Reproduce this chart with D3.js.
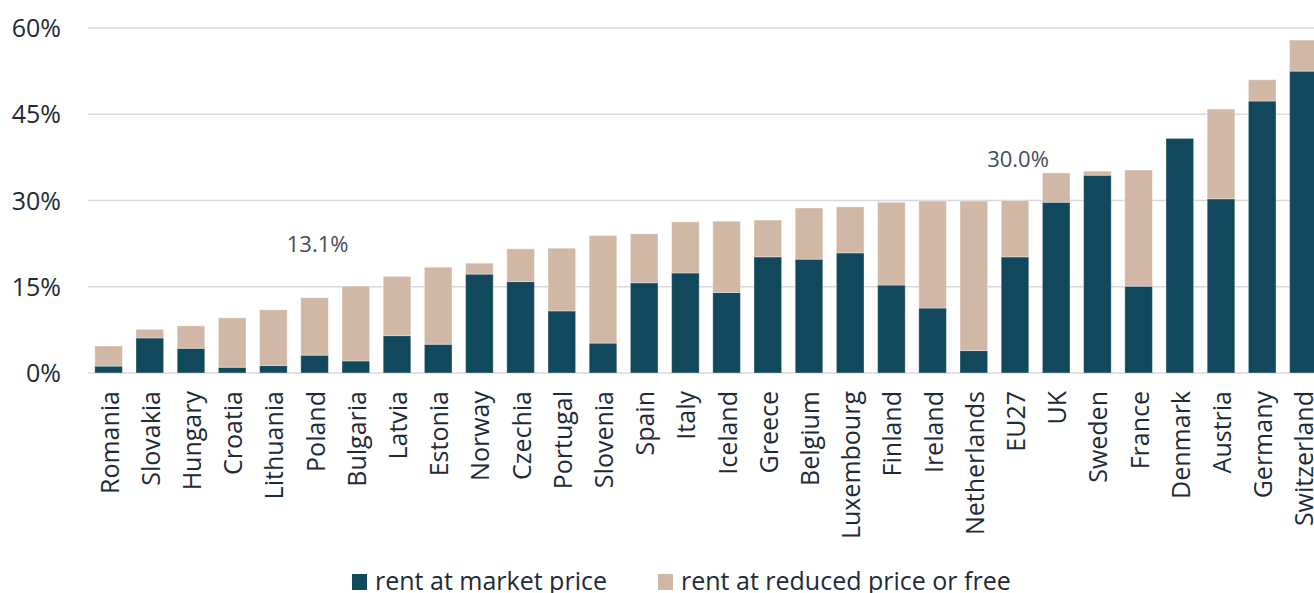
<!DOCTYPE html>
<html>
<head>
<meta charset="utf-8">
<script src="https://cdn.jsdelivr.net/npm/d3@7"></script>
<style>
  body { margin: 0; background: #fff; }
  svg text { font-family: "Open Sans", "Noto Sans", sans-serif; }
</style>
</head>
<body>
<div id="chart"></div>
<script>
// DATA
var countries = ["Romania", "Slovakia", "Hungary", "Croatia", "Lithuania", "Poland", "Bulgaria", "Latvia",
    "Estonia", "Norway", "Czechia", "Portugal", "Slovenia", "Spain", "Italy", "Iceland", "Greece", "Belgium",
    "Luxembourg", "Finland", "Ireland", "Netherlands", "EU27", "UK", "Sweden", "France", "Denmark", "Austria",
    "Germany", "Switzerland"];
var marketRent = [1.2, 6.1, 4.3, 1.0, 1.3, 3.1, 2.1, 6.5, 5.0, 17.2, 15.9, 10.8, 5.2, 15.7, 17.4, 14.0, 20.2,
    19.8, 20.9, 15.3, 11.3, 3.9, 20.2, 29.7, 34.4, 15.1, 40.8, 30.3, 47.3, 52.5];
var reducedRent = [3.5, 1.5, 3.9, 8.6, 9.7, 10.0, 13.0, 10.3, 13.4, 1.9, 5.7, 10.9, 18.7, 8.5, 8.9, 12.4, 6.4,
    8.9, 8.0, 14.4, 18.6, 26.0, 9.8, 5.1, 0.7, 20.2, 0.0, 15.6, 3.7, 5.4];
var yTicks = [0, 15, 30, 45, 60];
var seriesNames = ["rent at market price", "rent at reduced price or free"];
var highlights = [{country: "Poland", label: "13.1%", value: 13.1, dy: 46},
                  {country: "EU27", label: "30.0%", value: 30.0, dy: 34}];

var colors = ["#11485c", "#d1b8a6"];

// SET UP
var totalWidth = 1314, totalHeight = 593;
var margin = {top: 28, left: 88, bottom: 220};

var svg = d3.select("#chart").append("svg")
    .attr("width", totalWidth)
    .attr("height", totalHeight);

var xScale = d3.scaleBand()
    .domain(countries)
    .range([margin.left, margin.left + 30 * 41.2])
    .paddingInner(0.33)
    .paddingOuter(0.165);

var yScale = d3.scaleLinear()
    .domain([0, 60])
    .range([373, margin.top]);

// Gridlines + y labels
svg.append("g")
    .selectAll("line")
    .data(yTicks)
    .join("line")
    .attr("x1", margin.left)
    .attr("x2", totalWidth)
    .attr("y1", (d) => yScale(d))
    .attr("y2", (d) => yScale(d))
    .attr("stroke", "#d9d9d9")
    .attr("stroke-width", 1.5);

svg.append("g")
    .selectAll("text")
    .data(yTicks)
    .join("text")
    .attr("x", 61)
    .attr("y", (d) => yScale(d))
    .attr("dy", "0.36em")
    .attr("text-anchor", "end")
    .attr("font-size", "25px")
    .attr("fill", "#1e2a36")
    .text((d) => d + "%");

// Stacked bars
var rows = countries.map(function(c, i) {
    return {country: c, market: marketRent[i], reduced: reducedRent[i]};
});
var stacked = d3.stack().keys(["market", "reduced"])(rows);

svg.append("g")
    .selectAll("g")
    .data(stacked)
    .join("g")
    .attr("fill", (d, i) => colors[i])
    .selectAll("rect")
    .data((d) => d)
    .join("rect")
    .attr("x", (d) => xScale(d.data.country))
    .attr("width", xScale.bandwidth())
    .attr("y", (d) => yScale(d[1]))
    .attr("height", (d) => yScale(d[0]) - yScale(d[1]))
    .attr("stroke", "#ffffff")
    .attr("stroke-opacity", 0.35)
    .attr("stroke-width", 1);

// Category labels
svg.append("g")
    .selectAll("text")
    .data(countries)
    .join("text")
    .attr("transform", (d) => "translate(" + (xScale(d) + xScale.bandwidth() / 2 + 1) + ",391) rotate(-90)")
    .attr("dy", "0.36em")
    .attr("text-anchor", "end")
    .attr("font-size", "25px")
    .attr("fill", "#1e2a36")
    .text((d) => d);

// Highlight annotations
svg.append("g")
    .selectAll("text")
    .data(highlights)
    .join("text")
    .attr("x", (d) => xScale(d.country) + xScale.bandwidth() / 2 + 3)
    .attr("y", (d) => yScale(d.value) - d.dy)
    .attr("text-anchor", "middle")
    .attr("font-size", "22px")
    .attr("fill", "#454d5a")
    .text((d) => d.label);

// Legend
var legendX = [352, 658];
var legend = svg.append("g")
    .selectAll("g")
    .data(seriesNames)
    .join("g")
    .attr("transform", (d, i) => "translate(" + legendX[i] + ",574)");

legend.append("rect")
    .attr("width", 15)
    .attr("height", 16)
    .attr("fill", (d, i) => colors[i]);

legend.append("text")
    .attr("x", 23)
    .attr("y", 16)
    .attr("font-size", "25px")
    .attr("fill", "#1e2a36")
    .text((d) => d);
</script>
</body>
</html>
